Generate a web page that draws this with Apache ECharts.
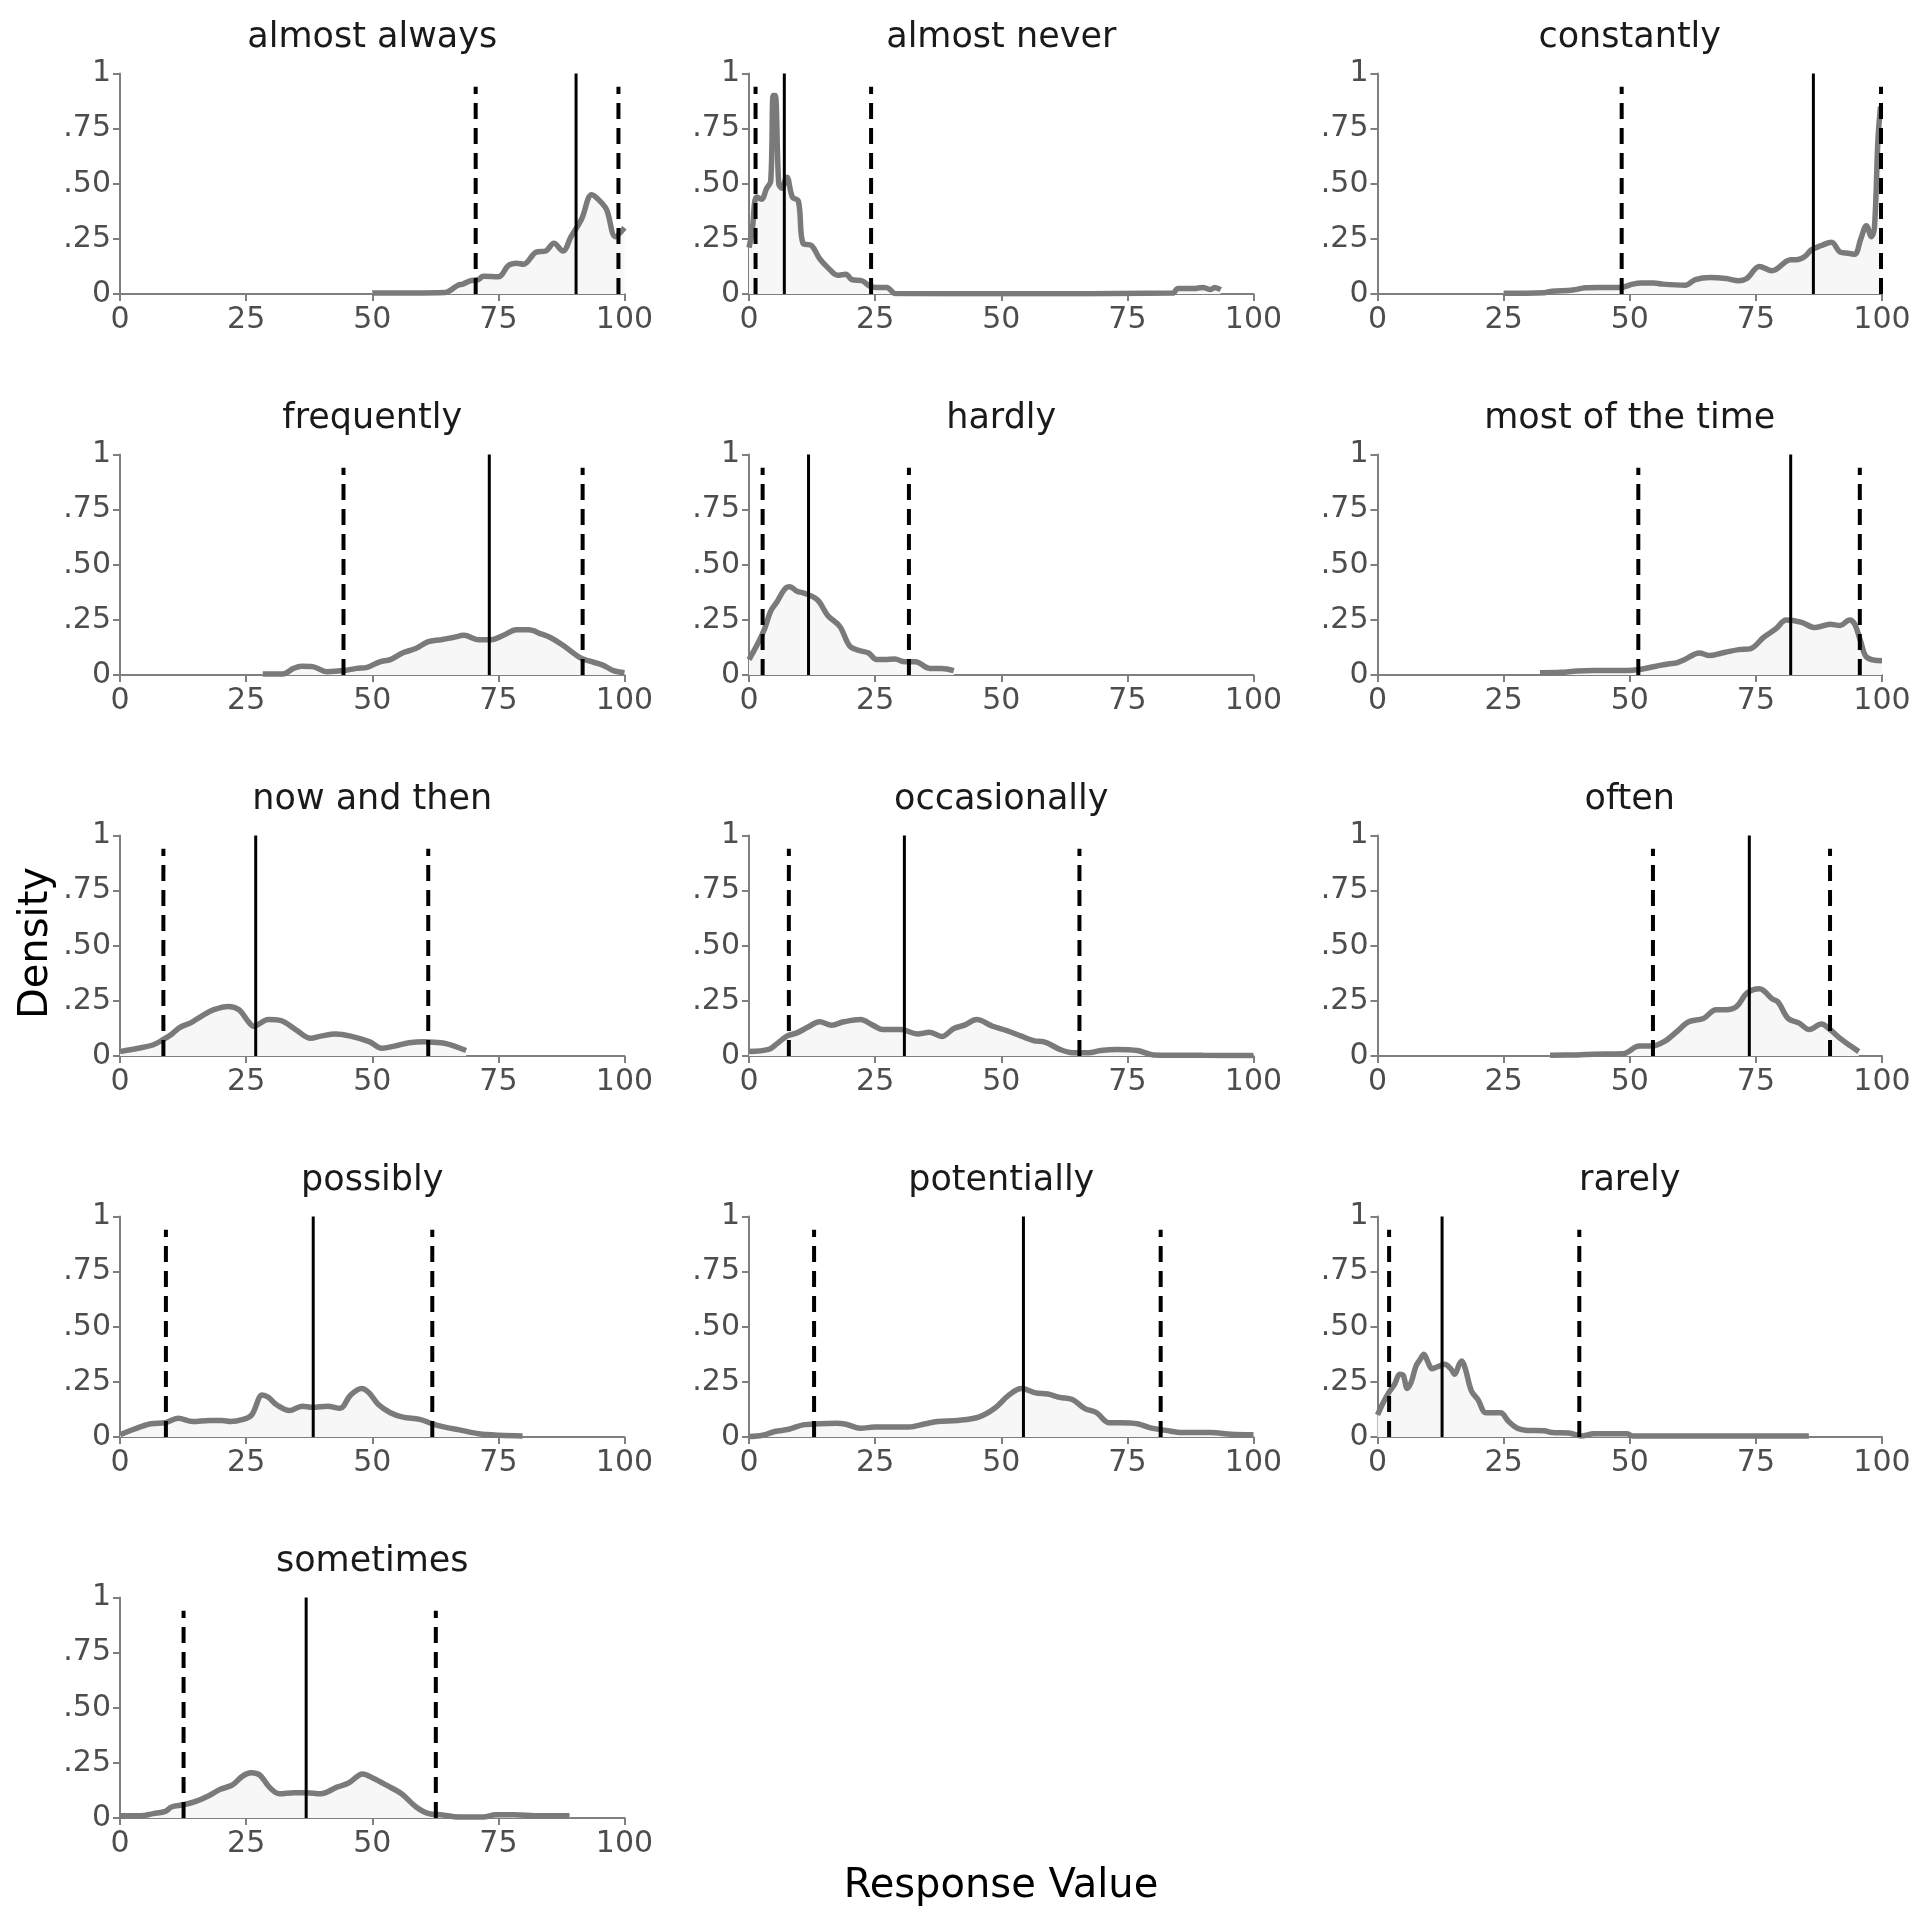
<!DOCTYPE html>
<html>
<head>
<meta charset="utf-8">
<script src="https://cdn.jsdelivr.net/npm/echarts@6/dist/echarts.min.js"></script>
<style>
html,body{margin:0;padding:0;background:#fff;}
#chart{width:1920px;height:1920px;}
</style>
</head>
<body>
<div id="chart"></div>
<script>
// ---- data ----
const categories = ["almost always","almost never","constantly","frequently","hardly","most of the time","now and then","occasionally","often","possibly","potentially","rarely","sometimes"];
const lowerQ = [70.5, 1.3, 48.4, 44.3, 2.7, 51.7, 8.6, 7.9, 54.6, 9.1, 12.9, 2.3, 12.6];
const medians = [90.4, 7.0, 86.4, 73.2, 11.8, 81.9, 26.9, 30.8, 73.7, 38.3, 54.4, 12.8, 36.9];
const upperQ = [98.8, 24.2, 99.8, 91.7, 31.7, 95.6, 61.1, 65.5, 89.7, 61.9, 81.6, 40.0, 62.6];
const xTicks = [0, 25, 50, 75, 100];
const yTicks = [0, 0.25, 0.5, 0.75, 1];
const yTickLabels = ["0", ".25", ".50", ".75", "1"];

const almostAlways = [[50,0.005],[58,0.005],[64.4,0.007],[67,0.04],[68,0.045],[69.4,0.06],[71,0.065],[72,0.08],[75,0.078],[77,0.13],[78.6,0.14],[80,0.135],[82.5,0.19],[84.4,0.195],[86,0.23],[87.8,0.195],[89.4,0.26],[91.5,0.34],[93.5,0.45],[95.2,0.42],[96.5,0.38],[98.2,0.26],[100,0.3]];
const almostNever = [[0,0.21],[0.6,0.28],[1.5,0.44],[2.5,0.43],[3.5,0.48],[4.3,0.51],[4.8,0.9],[5.2,0.9],[5.9,0.5],[6.5,0.48],[7.5,0.53],[8.6,0.44],[9.8,0.42],[10.7,0.23],[12.4,0.22],[14,0.16],[15.6,0.12],[17.6,0.085],[19.2,0.09],[20.4,0.065],[22.4,0.06],[24,0.035],[25.3,0.03],[27.3,0.03],[29,0.002],[50,0.001],[84,0.004],[85,0.025],[88.2,0.025],[89.9,0.03],[91.5,0.02],[92.3,0.03],[93.5,0.02]];
const constantly = [[25,0.003],[33,0.006],[34.6,0.012],[38.7,0.018],[41.2,0.028],[43.7,0.03],[48.2,0.03],[50.6,0.045],[52.3,0.05],[54.8,0.05],[56.4,0.045],[61,0.04],[63,0.065],[65.9,0.075],[69.1,0.07],[71.6,0.06],[73.2,0.07],[75.7,0.125],[78.2,0.105],[81.9,0.155],[83.1,0.155],[84.7,0.17],[86,0.2],[88,0.22],[90,0.235],[91.7,0.19],[93.3,0.185],[94.6,0.18],[95.8,0.25],[96.9,0.31],[97.9,0.26],[98.5,0.3],[99.2,0.7],[99.7,0.85]];
const frequently = [[28.3,0.005],[32.3,0.005],[34.4,0.03],[36,0.04],[38.2,0.038],[41,0.015],[44.4,0.02],[46.9,0.03],[49,0.035],[51.5,0.06],[53.6,0.07],[56,0.1],[58.6,0.12],[61,0.15],[63.6,0.16],[66,0.17],[68.2,0.18],[71,0.16],[73.6,0.16],[76,0.18],[78.6,0.205],[81,0.205],[83.6,0.185],[85.3,0.17],[87.8,0.135],[91.1,0.08],[92.8,0.065],[95.7,0.045],[97.8,0.02],[100,0.01]];
const hardly = [[0,0.07],[1.9,0.15],[3.1,0.21],[4.3,0.29],[5.5,0.33],[7.1,0.39],[8.1,0.4],[9.5,0.38],[11.1,0.37],[13.6,0.34],[15.6,0.27],[18,0.22],[20,0.13],[22,0.11],[23.7,0.1],[25.3,0.07],[26.9,0.07],[28.9,0.072],[30.9,0.06],[33,0.06],[35.8,0.03],[38.2,0.03],[40.6,0.02]];
const mostOfTheTime = [[32.2,0.01],[36.3,0.012],[39.6,0.018],[42.9,0.02],[49.4,0.02],[51.9,0.025],[55.2,0.04],[57.6,0.05],[59.3,0.055],[60.9,0.07],[63.8,0.1],[65.8,0.088],[68.3,0.1],[71.6,0.115],[74,0.12],[76.5,0.17],[79,0.21],[81,0.25],[83.9,0.24],[86.8,0.215],[89.7,0.23],[91.7,0.225],[93.6,0.25],[94.6,0.23],[95.8,0.15],[97,0.08],[100,0.065]];
const nowAndThen = [[0,0.02],[3.6,0.035],[6.5,0.05],[8.6,0.075],[10.3,0.1],[11.9,0.13],[14,0.15],[16.1,0.18],[18.6,0.21],[21.5,0.225],[23.6,0.21],[25.3,0.16],[26.5,0.135],[29.4,0.165],[31.9,0.16],[34.8,0.12],[37.8,0.08],[39.8,0.09],[42.8,0.1],[45.7,0.09],[49.4,0.065],[51.9,0.035],[54.4,0.045],[57.3,0.06],[60.3,0.065],[62.3,0.062],[64.8,0.055],[68.6,0.025]];
const occasionally = [[0,0.02],[3.9,0.03],[5.5,0.055],[7.5,0.09],[9.5,0.105],[11.6,0.13],[14,0.155],[16.4,0.14],[18.8,0.155],[22.1,0.165],[24.5,0.14],[26.5,0.12],[30.1,0.12],[33.4,0.1],[35.8,0.108],[38.2,0.088],[40.6,0.125],[42.7,0.14],[45.1,0.165],[48.3,0.135],[51.1,0.115],[54,0.09],[56.4,0.07],[58.8,0.062],[61.6,0.03],[64.1,0.015],[67.3,0.015],[69.7,0.025],[72.9,0.03],[77,0.025],[80.2,0.005],[90,0.003],[100,0.002]];
const often = [[34.2,0.003],[39.6,0.005],[42.9,0.008],[48.6,0.01],[51.9,0.045],[54.4,0.045],[56.8,0.065],[59.3,0.11],[61.7,0.155],[64.6,0.17],[67.1,0.21],[69.1,0.21],[71.2,0.225],[73.2,0.285],[75.7,0.305],[78.2,0.26],[79.4,0.245],[81.4,0.17],[83.5,0.15],[85.6,0.12],[88,0.145],[89.7,0.12],[91.7,0.08],[93.8,0.045],[95.4,0.02]];
const possibly = [[0,0.01],[2.75,0.035],[6.1,0.06],[9,0.065],[11.5,0.085],[14.4,0.07],[17.75,0.075],[20.25,0.075],[21.9,0.07],[24.4,0.08],[26.1,0.1],[28.2,0.19],[29.4,0.18],[31.1,0.145],[33.6,0.12],[36.1,0.14],[38.2,0.135],[41.1,0.14],[43.6,0.13],[45.7,0.19],[47.9,0.22],[49.4,0.2],[51.1,0.15],[53.6,0.11],[56.1,0.09],[59.4,0.08],[61.9,0.06],[64.4,0.045],[67.75,0.03],[71.1,0.015],[75.25,0.008],[79.8,0.005]];
const potentially = [[0,0.002],[2.7,0.008],[5.1,0.025],[7.9,0.035],[10.7,0.055],[14,0.06],[17.2,0.062],[19.2,0.058],[22.1,0.04],[24.9,0.045],[31.7,0.045],[35,0.06],[37.4,0.07],[41.4,0.075],[45.5,0.09],[48.7,0.13],[51.5,0.19],[54,0.22],[56.8,0.2],[59.2,0.195],[61.6,0.18],[64.1,0.17],[66.5,0.13],[68.9,0.11],[71.3,0.065],[73.7,0.065],[77,0.06],[79.8,0.04],[82.6,0.03],[85.9,0.02],[91.5,0.02],[95.6,0.012],[100,0.01]];
const rarely = [[0,0.1],[1,0.15],[2.2,0.2],[3.4,0.24],[4.4,0.285],[5.1,0.28],[5.9,0.22],[6.7,0.25],[7.6,0.32],[8.4,0.35],[9.2,0.375],[10,0.34],[10.8,0.31],[12.1,0.32],[13.3,0.33],[14.5,0.31],[15.3,0.285],[16.2,0.33],[16.7,0.345],[17.4,0.31],[18.6,0.21],[19.9,0.17],[21.5,0.11],[23.2,0.11],[24.4,0.11],[26,0.07],[27.7,0.04],[29.7,0.03],[33,0.028],[34.6,0.02],[37.9,0.018],[40.4,0.005],[42.9,0.015],[49.4,0.015],[50.6,0.005],[70,0.005],[85.5,0.005]];
const sometimes = [[0,0.01],[4.1,0.01],[6.6,0.02],[9,0.03],[10.2,0.05],[12.6,0.06],[15,0.075],[17.5,0.1],[19.9,0.13],[22.3,0.15],[24.3,0.19],[26,0.205],[27.7,0.195],[29.6,0.14],[31.6,0.11],[34.5,0.115],[36.9,0.115],[39.8,0.11],[43,0.14],[45.4,0.16],[48.1,0.2],[50.2,0.18],[52.7,0.15],[55.8,0.11],[58.7,0.05],[61.2,0.02],[63.6,0.015],[67.2,0.005],[72,0.005],[74.5,0.015],[78.2,0.015],[83,0.01],[89.1,0.01]];

const curves = [almostAlways, almostNever, constantly, frequently, hardly, mostOfTheTime, nowAndThen, occasionally, often, possibly, potentially, rarely, sometimes];
const dashTop = 0.94;

// ---- layout ----
const FONT = "DejaVu Sans";
const colLeft = [120, 749, 1377.5];
const rowTop = [73.5, 454.5, 835.5, 1216.5, 1597.5];
const gw = 504.5, gh = 220.5;

const grids = [], xAxes = [], yAxes = [], series = [], titles = [];
categories.forEach((cat, i) => {
  const r = Math.floor(i / 3), c = i % 3;
  const left = colLeft[c], top = rowTop[r];
  grids.push({left: left, top: top, width: gw, height: gh, containLabel: false});
  titles.push({
    text: cat, left: left + gw / 2, top: top - 53, textAlign: 'center', padding: 0,
    textStyle: {fontFamily: FONT, fontSize: 35, fontWeight: 'normal', color: '#1a1a1a'}
  });
  xAxes.push({
    gridIndex: i, type: 'value', min: 0, max: 100, interval: 25,
    axisLine: {show: true, onZero: false, lineStyle: {color: '#7f7f7f', width: 2}},
    axisTick: {show: true, length: 7, lineStyle: {color: '#7f7f7f', width: 2}},
    axisLabel: {fontFamily: FONT, fontSize: 30, color: '#4d4d4d', margin: 11,
      formatter: v => xTicks.includes(v) ? String(v) : ''},
    splitLine: {show: false}
  });
  yAxes.push({
    gridIndex: i, type: 'value', min: 0, max: 1, interval: 0.25,
    axisLine: {show: true, onZero: false, lineStyle: {color: '#7f7f7f', width: 2}},
    axisTick: {show: true, length: 7, lineStyle: {color: '#7f7f7f', width: 2}},
    axisLabel: {fontFamily: FONT, fontSize: 30, color: '#4d4d4d', margin: 9,
      formatter: v => { const k = yTicks.findIndex(t => Math.abs(t - v) < 1e-6); return k >= 0 ? yTickLabels[k] : ''; }},
    splitLine: {show: false}
  });
  series.push({
    type: 'line', xAxisIndex: i, yAxisIndex: i, data: curves[i], showSymbol: false, symbol: 'none',
    smooth: 0.35, lineStyle: {color: '#7a7a7a', width: 5.5},
    areaStyle: {color: '#f7f7f7', opacity: 1, origin: 'start'}, z: 2, silent: true
  });
  [lowerQ[i], upperQ[i]].forEach(q => {
    series.push({
      type: 'line', xAxisIndex: i, yAxisIndex: i, data: [[q, 0], [q, dashTop]], showSymbol: false, symbol: 'none',
      lineStyle: {color: '#000', width: 4, type: [16, 9]}, z: 4, silent: true
    });
  });
  series.push({
    type: 'line', xAxisIndex: i, yAxisIndex: i, data: [[medians[i], 0], [medians[i], 1]], showSymbol: false, symbol: 'none',
    lineStyle: {color: '#000', width: 3}, z: 4, silent: true
  });
});

const chart = echarts.init(document.getElementById('chart'), null, {renderer: 'canvas'});
chart.setOption({
  animation: false,
  backgroundColor: '#ffffff',
  title: titles,
  grid: grids,
  xAxis: xAxes,
  yAxis: yAxes,
  series: series,
  graphic: [
    {type: 'text', x: 1001, y: 1887, style: {text: 'Response Value', font: '40px "DejaVu Sans"', fill: '#000', textAlign: 'center', textVerticalAlign: 'middle'}},
    {type: 'text', x: 37, y: 943, rotation: Math.PI / 2, style: {text: 'Density', font: '40px "DejaVu Sans"', fill: '#000', textAlign: 'center', textVerticalAlign: 'middle'}}
  ]
});
</script>
</body>
</html>
